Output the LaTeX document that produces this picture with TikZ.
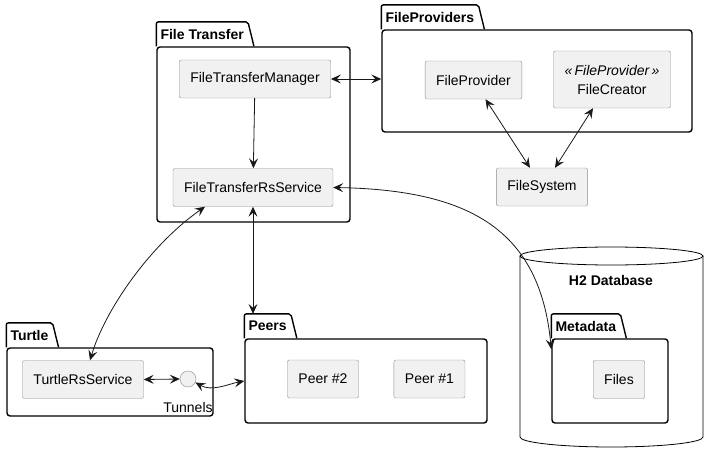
\documentclass[tikz,border=0pt]{standalone}
\usepackage{fontspec}
\setmainfont{Liberation Sans}
\usepackage{xcolor}
\usetikzlibrary{arrows.meta, positioning, fit}
\definecolor{boxfill}{HTML}{F1F1F1}
\definecolor{boxline}{HTML}{8C8C8C}
\definecolor{linkcol}{HTML}{181818}
\tikzset{
  component/.style={rectangle, rounded corners=2pt, draw=boxline, fill=boxfill, minimum height=38pt, inner xsep=11pt}, % Define the component style
  package/.style={rectangle, rounded corners=3pt, draw=black, line width=1.4pt, inner sep=0pt}, % Define the package body style
  pkgtitle/.style={anchor=south west, inner xsep=4pt, inner ysep=0pt, minimum height=24pt, font=\fontsize{14}{17}\selectfont\bfseries},
  pkgtab/.style={draw=black, line width=1.4pt, rounded corners=2pt},
  iface/.style={circle, draw=boxline, fill=boxfill, minimum size=16pt, inner sep=0pt},
  tip/.style={Stealth[length=10pt, width=9pt, inset=4pt]}
}

\begin{document}
\begin{tikzpicture}[x=1pt, y=-1pt, font=\fontsize{14}{17}\selectfont]
    \tikzset{
      link/.style={draw=linkcol, line width=0.8pt, {Stealth[length=10pt, width=9pt, inset=4pt]}-{Stealth[length=10pt, width=9pt, inset=4pt]}},
      flow/.style={draw=linkcol, line width=0.8pt, -{Stealth[length=10pt, width=9pt, inset=4pt]}}
    }
    \useasboundingbox (0,0) rectangle (716,471);

    % Database
    \draw[line width=0.8pt] (611.5,256) ellipse [x radius=91.5pt, y radius=9pt];
    \draw[line width=0.8pt] (520,256) -- (520,437) arc[start angle=180, end angle=360, x radius=91.5pt, y radius=10pt] -- (703,256);
    \node[font=\fontsize{14}{17}\selectfont\bfseries] (h2title) at (611,280) {H2 Database};

    % Packages
    \node[package, fit={(157,47) (350,222)}] (ftpkg) {};
    \node[pkgtitle] (fttitle) at (ftpkg.north west) {File Transfer};
    \draw[pkgtab] (ftpkg.north west) -- (fttitle.north west) -- (fttitle.north east) -- ([xshift=6pt]fttitle.south east);

    \node[package, fit={(382,30) (692,132)}] (fppkg) {};
    \node[pkgtitle] (fptitle) at (fppkg.north west) {FileProviders};
    \draw[pkgtab] (fppkg.north west) -- (fptitle.north west) -- (fptitle.north east) -- ([xshift=6pt]fptitle.south east);

    \node[package, fit={(7,348) (213,416)}] (turtpkg) {};
    \node[pkgtitle] (turttitle) at (turtpkg.north west) {Turtle};
    \draw[pkgtab] (turtpkg.north west) -- (turttitle.north west) -- (turttitle.north east) -- ([xshift=6pt]turttitle.south east);

    \node[package, fit={(245,339) (487,423)}] (peers) {};
    \node[pkgtitle] (peerstitle) at (peers.north west) {Peers};
    \draw[pkgtab] (peers.north west) -- (peerstitle.north west) -- (peerstitle.north east) -- ([xshift=6pt]peerstitle.south east);

    \node[package, fit={(552,339) (668,423)}] (meta) {};
    \node[pkgtitle] (metatitle) at (meta.north west) {Metadata};
    \draw[pkgtab] (meta.north west) -- (metatitle.north west) -- (metatitle.north east) -- ([xshift=6pt]metatitle.south east);

    % Nodes
    \node[component] (ftm) at (255,79) {FileTransferManager};
    \node[component] (ftrs) at (253,187.5) {FileTransferRsService};
    \node[component] (fprov) at (473.5,80) {FileProvider};
    \node[component, align=center, minimum height=57pt, font=\fontsize{14}{19}\selectfont] (fcreat) at (612,79.5) {{\itshape «\,FileProvider\,»}\\FileCreator};
    \node[component] (fsys) at (542,187) {FileSystem};
    \node[component] (trs) at (83,379.5) {TurtleRsService};
    \node[iface] (tunnels) at (188,379) {};
    \node[below=15pt of tunnels, inner sep=0pt] (tunnelslabel) {Tunnels};
    \node[component] (peer2) at (323,379) {Peer \#2};
    \node[component, right=35pt of peer2] (peer1) {Peer \#1};
    \node[component] (files) at (619,379.5) {Files};

    % Edges
    \draw[link] (ftm.east) -- (ftm.east -| fppkg.west);
    \draw[flow] (ftm) -- (ftrs);
    \draw[link] ([xshift=12pt]fprov.south) -- ([xshift=-12pt]fsys.north);
    \draw[link] ([xshift=-19pt]fcreat.south) -- ([xshift=13pt]fsys.north);
    \draw[link] (ftrs.south) -- (ftrs.south |- peerstitle.north);
    \draw[link] ([xshift=-48pt]ftrs.south) .. controls (150,245) and (105,310) .. ([xshift=7pt]trs.north);
    \draw[link] (ftrs.east) .. controls (470,190) and (540,230) .. ([yshift=-11pt]meta.north west);
    \draw[link] (trs.east) -- (tunnels.west);
    \draw[link] (tunnels.-25) .. controls (212,392) and (228,384) .. (peers.west);

\end{tikzpicture}
\end{document}
